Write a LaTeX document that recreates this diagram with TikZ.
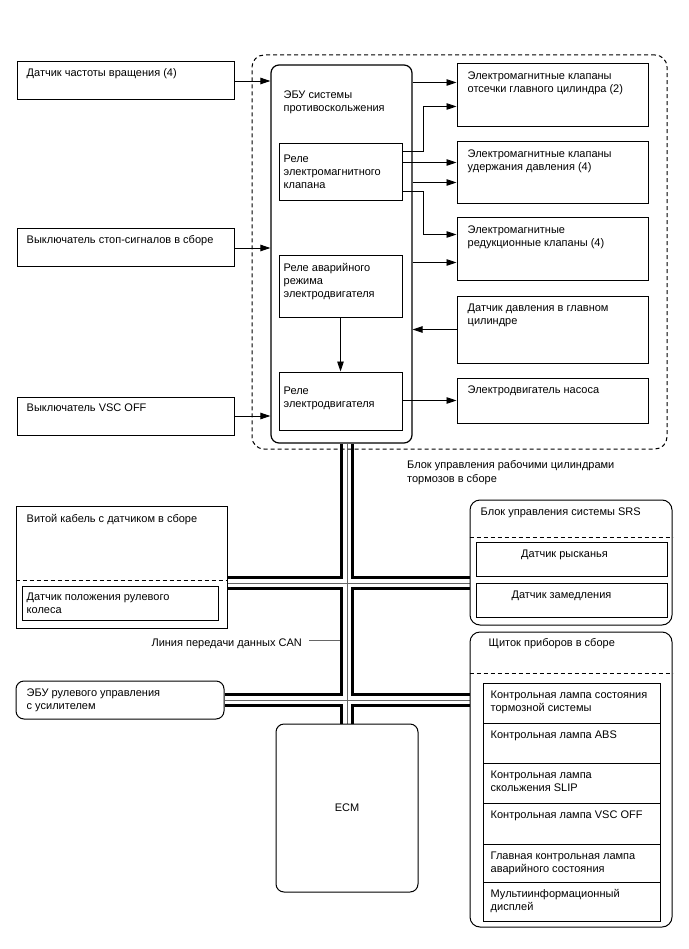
\documentclass[tikz,border=0pt]{standalone}
\usepackage{fontspec}
\setmainfont{Liberation Sans}
\usetikzlibrary{arrows.meta,calc,backgrounds}
\begin{document}
\begin{tikzpicture}[x=1pt,y=-1pt,
  box/.style={draw, line width=1pt, fill=white, inner sep=0pt},
  rbox/.style={box, rounded corners=8pt},
  lbl/.style={anchor=north west, inner sep=0pt, align=left, font=\fontsize{11}{13.3}\selectfont},
  clbl/.style={anchor=base, inner sep=0pt, font=\fontsize{11}{13.3}\selectfont},
  conn/.style={line width=0.9pt, -{Triangle[length=10pt,width=6.5pt]}},
  dsh/.style={dash pattern=on 4pt off 3pt, line width=1pt}
]
\useasboundingbox (0,0) rectangle (688,949);

% ---- brake actuator region (dashed) ----
\node[draw, dsh, rounded corners=12pt, minimum width=415pt, minimum height=394pt, inner sep=0pt] (hcu) at (459.5,252) {};

% ---- left inputs ----
\node[box, minimum width=217pt, minimum height=38pt] (spd) at (125.5,81) {};
\node[box, minimum width=217pt, minimum height=38pt] (stop) at (125.5,248) {};
\node[box, minimum width=217pt, minimum height=38pt] (vscsw) at (125.5,416) {};

% ---- ECU and relays ----
\node[rbox, line width=1.2pt, minimum width=141pt, minimum height=378pt] (ecu) at (341.5,254) {};
\node[box, minimum width=123pt, minimum height=57pt] (rel1) at (340.5,172.5) {};
\node[box, minimum width=123pt, minimum height=61pt] (rel2) at (340.5,286.5) {};
\node[box, minimum width=123pt, minimum height=58pt] (rel3) at (340.5,401) {};

% ---- right outputs ----
\node[box, minimum width=191pt, minimum height=63pt] (A) at (552.5,95.5) {};
\node[box, minimum width=191pt, minimum height=62pt] (B) at (552.5,173) {};
\node[box, minimum width=191pt, minimum height=63pt] (C) at (552.5,249.5) {};
\node[box, minimum width=191pt, minimum height=67pt] (D) at (552.5,329.5) {};
\node[box, minimum width=191pt, minimum height=45pt] (E) at (552.5,400.5) {};

% ---- CAN nodes ----
\node[box, minimum width=211pt, minimum height=122pt] (cable) at (121.5,567) {};
\node[box, minimum width=196pt, minimum height=34pt] (swa) at (120,603) {};
\node[rbox, rounded corners=10pt, minimum width=202pt, minimum height=125pt] (srs) at (571,562.5) {};
\node[box, minimum width=191pt, minimum height=34pt] (yaw) at (571.5,559) {};
\node[box, minimum width=191pt, minimum height=34pt] (dec) at (571.5,600) {};
\node[rbox, rounded corners=10pt, minimum width=202pt, minimum height=295pt] (clu) at (571,779.5) {};
\node[box, minimum width=177pt, minimum height=40pt] (l1) at (571.5,703) {};
\node[box, minimum width=177pt, minimum height=40pt] (l2) at (571.5,743) {};
\node[box, minimum width=177pt, minimum height=40pt] (l3) at (571.5,783) {};
\node[box, minimum width=177pt, minimum height=41pt] (l4) at (571.5,823.5) {};
\node[box, minimum width=177pt, minimum height=38pt] (l5) at (571.5,863) {};
\node[box, minimum width=177pt, minimum height=39pt] (l6) at (571.5,901.5) {};
\node[rbox, minimum width=208pt, minimum height=38pt] (eps) at (120,700) {};
\node[rbox, minimum width=142pt, minimum height=168pt] (ecm) at (347,808) {};

% ---- dashed separators ----
\draw[dsh] ($(cable.north west)+(0,75)$) -- ($(cable.north east)+(0,75)$);
\draw[dsh] ($(srs.north west)+(0,38)$) -- ($(srs.north east)+(0,38)$);
\draw[dsh] ($(clu.north west)+(0,42)$) -- ($(clu.north east)+(0,42)$);

% ---- CAN bus (behind boxes) ----
\coordinate (x1) at (347,583);
\begin{scope}[on background layer]
\fill[white] (0,0) rectangle (688,949);
\foreach \w/\c in {14pt/black, 7.4pt/white, 0.7pt/black!60} {
  \draw[line width=\w, draw=\c]
    (ecm.north |- ecu.south) -- (ecm.north)
    (x1 -| cable.east) -- (x1 -| srs.west)
    (eps.east) -- (eps.east -| clu.west);
}
\end{scope}

% ---- connectors ----
\draw[conn] (spd.east) -- (spd.east -| ecu.west);
\draw[conn] (stop.east) -- (stop.east -| ecu.west);
\draw[conn] (vscsw.east) -- (vscsw.east -| ecu.west);
\coordinate (a1) at ($(A.north west)+(0,19)$);
\coordinate (a2) at ($(A.north west)+(0,43)$);
\coordinate (b1) at ($(B.north west)+(0,21)$);
\coordinate (b2) at ($(B.north west)+(0,41)$);
\coordinate (c1) at ($(C.north west)+(0,17)$);
\coordinate (c2) at ($(C.north west)+(0,45)$);
\coordinate (r1a) at ($(rel1.north east)+(0,8)$);
\coordinate (r1c) at ($(rel1.north east)+(0,48)$);
\draw[conn] (a1 -| ecu.east) -- (a1);
\draw[conn] (r1a) -- ++(21,0) |- (a2);
\draw[conn] (b1 -| rel1.east) -- (b1);
\draw[conn] (b2 -| ecu.east) -- (b2);
\draw[conn] (r1c) -- ++(21,0) |- (c1);
\draw[conn] (c2 -| ecu.east) -- (c2);
\draw[conn] (D.west) -- (D.west -| ecu.east);
\draw[conn] (E.west -| rel3.east) -- (E.west);
\draw[conn] (rel2.south) -- (rel3.north);

% ---- texts ----
\node[lbl] (t1) at ($(spd.north west)+(10,5)$) {\strut Датчик частоты вращения (4)};
\node[lbl] (t2) at ($(stop.north west)+(10,5)$) {\strut Выключатель стоп-сигналов в сборе};
\node[lbl] (t3) at ($(vscsw.north west)+(10,5.5)$) {\strut Выключатель VSC OFF};
\node[lbl] (t4) at ($(ecu.north west)+(13,24.2)$) {\strut ЭБУ системы\\противоскольжения};
\node[lbl] (t5) at ($(rel1.north west)+(5,9.2)$) {\strut Реле\\электромагнитного\\клапана};
\node[lbl] (t6) at ($(rel2.north west)+(5,6.2)$) {\strut Реле аварийного\\режима\\электродвигателя};
\node[lbl] (t7) at ($(rel3.north west)+(5,13.2)$) {\strut Реле\\электродвигателя};
\node[lbl] (t8) at ($(A.north west)+(11,6.5)$) {\strut Электромагнитные клапаны\\отсечки главного цилиндра (2)};
\node[lbl] (t9) at ($(B.north west)+(11,6.2)$) {\strut Электромагнитные клапаны\\удержания давления (4)};
\node[lbl] (t10) at ($(C.north west)+(11,6.2)$) {\strut Электромагнитные\\редукционные клапаны (4)};
\node[lbl] (t11) at ($(D.north west)+(11,6.2)$) {\strut Датчик давления в главном\\цилиндре};
\node[lbl] (t12) at ($(E.north west)+(11,6.2)$) {\strut Электродвигатель насоса};
\node[lbl] (t13) at (407,459.2) {\strut Блок управления рабочими цилиндрами\\тормозов в сборе};
\node[lbl] (t14) at ($(cable.north west)+(11,7.2)$) {\strut Витой кабель с датчиком в сборе};
\node[lbl] (t15) at ($(swa.north west)+(5,5.2)$) {\strut Датчик положения рулевого\\колеса};
\node[lbl] (t16) at ($(srs.north west)+(11,6.2)$) {\strut Блок управления системы SRS};
\node[clbl] (t17) at ($(yaw.north)+(-7,15.5)$) {Датчик рысканья};
\node[clbl] (t18) at ($(dec.north)+(-10,16)$) {Датчик замедления};
\node[lbl] (t19) at ($(clu.north west)+(19,5.2)$) {\strut Щиток приборов в сборе};
\node[lbl] (t20) at ($(l1.north west)+(8,6.5)$) {\strut Контрольная лампа состояния\\тормозной системы};
\node[lbl] (t21) at ($(l2.north west)+(8,6.5)$) {\strut Контрольная лампа ABS};
\node[lbl] (t22) at ($(l3.north west)+(8,6.5)$) {\strut Контрольная лампа\\скольжения SLIP};
\node[lbl] (t23) at ($(l4.north west)+(8,6.5)$) {\strut Контрольная лампа VSC OFF};
\node[lbl] (t24) at ($(l5.north west)+(8,6.5)$) {\strut Главная контрольная лампа\\аварийного состояния};
\node[lbl] (t25) at ($(l6.north west)+(8,6.5)$) {\strut Мультиинформационный\\дисплей};
\node[lbl] (t26) at ($(eps.north west)+(11,6.2)$) {\strut ЭБУ рулевого управления\\с усилителем};
\node[clbl, anchor=center] (t27) at (ecm.center) {ECM};
\node[clbl, anchor=base east] (can) at (302,646.5) {Линия передачи данных CAN};
\coordinate (canp) at ($(ecm.north |- can.east)+(-7.5,-3.5)$);
\draw[line width=0.9pt, black!60] ($(can.east)+(7,-3.5)$) -- (canp);
\end{tikzpicture}
\end{document}
